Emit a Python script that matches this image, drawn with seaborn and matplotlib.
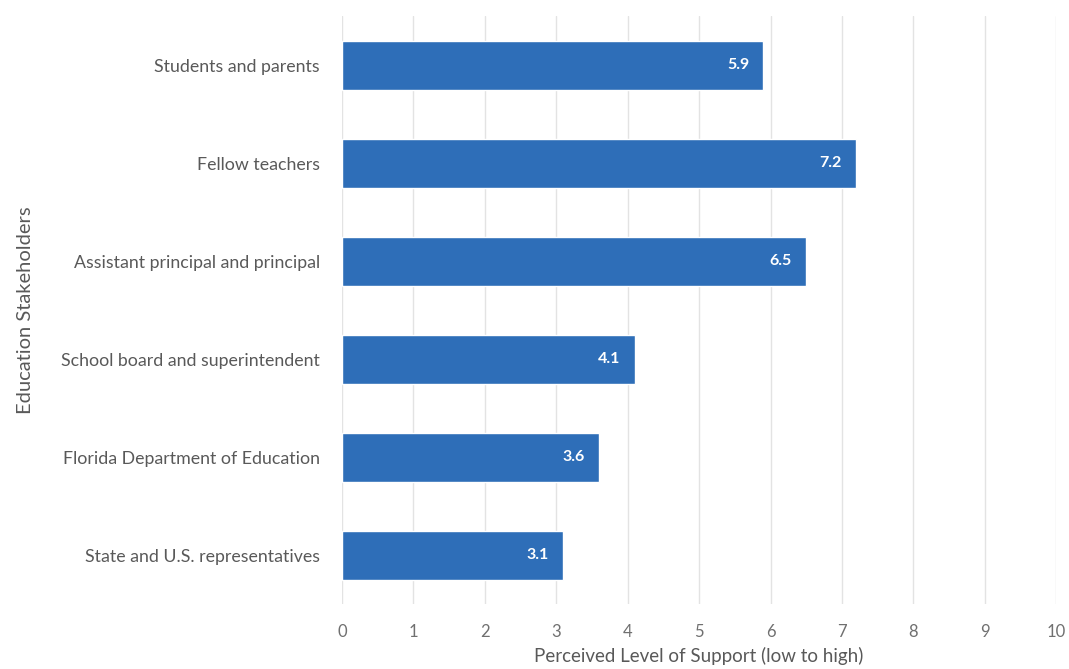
import matplotlib
matplotlib.use("Agg")
import matplotlib.pyplot as plt
import seaborn as sns
import pandas as pd

# Podaci
stakeholders = [
    "Students and parents",
    "Fellow teachers",
    "Assistant principal and principal",
    "School board and superintendent",
    "Florida Department of Education",
    "State and U.S. representatives",
]
support = [5.9, 7.2, 6.5, 4.1, 3.6, 3.1]
x_ticks = list(range(0, 11))

df = pd.DataFrame({"Stakeholder": stakeholders, "Support": support})

sns.set_theme(style="white")
plt.rcParams["font.family"] = ["Lato", "DejaVu Sans"]

text_grey = "#595959"
bar_blue = "#2e6eb8"

fig = plt.figure(figsize=(10.69, 6.69), dpi=100)
ax = fig.add_axes([0.320, 0.097, 0.668, 0.879])

sns.barplot(data=df, y="Stakeholder", x="Support", color=bar_blue,
            width=0.5, saturation=1, ax=ax, zorder=3)

for i, v in enumerate(support):
    ax.text(v - 0.2, i, f"{v:.1f}", ha="right", va="center",
            color="white", fontsize=11.5, fontweight="bold", zorder=4)

ax.set_xlim(0, 10)
ax.set_ylim(len(stakeholders) - 0.5, -0.5)
ax.set_xticks(x_ticks)
ax.set_xticklabels([str(t) for t in x_ticks])
ax.xaxis.grid(True, color="#e3e3e3", linewidth=1, zorder=0)
ax.yaxis.grid(False)
for s in ax.spines.values():
    s.set_visible(False)
ax.tick_params(axis="y", length=0, colors=text_grey, labelsize=12.8, pad=16)
ax.tick_params(axis="x", length=0, colors="#707070", labelsize=12, pad=14)

ax.set_xlabel("Perceived Level of Support (low to high)", color=text_grey,
              fontsize=13.5)
ax.xaxis.set_label_coords(0.5, -0.072)
ax.set_ylabel("Education Stakeholders", color=text_grey, fontsize=14.5)
ax.yaxis.set_label_coords(-0.432, 0.5)

fig.savefig("out.png", dpi=100)
plt.close()
